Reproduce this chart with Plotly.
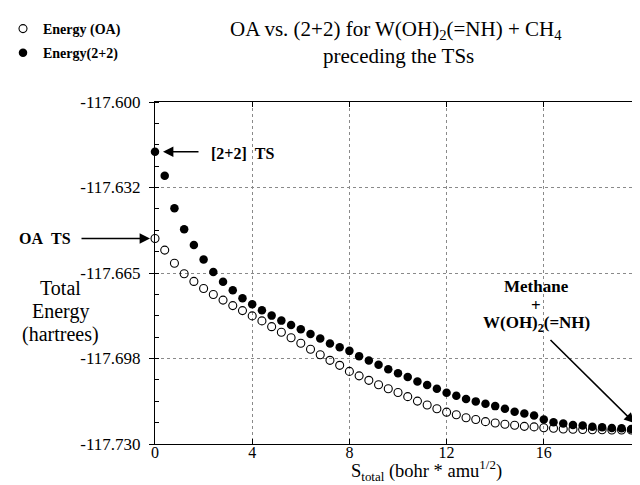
import plotly.graph_objects as go

# Reaction coordinate S_total (bohr * amu^1/2), step 0.4
s_values = [round(i * 0.4, 1) for i in range(51)]

# Total energy (hartrees) along the path preceding the OA TS
energy_oa = [
    -117.6519, -117.6563, -117.6613, -117.6653, -117.6682, -117.6709, -117.6732,
    -117.6753, -117.6774, -117.6793, -117.6813, -117.6832, -117.6854, -117.6875,
    -117.6896, -117.6917, -117.6940, -117.6961, -117.6982, -117.7001, -117.7024,
    -117.7041, -117.7058, -117.7075, -117.7090, -117.7104, -117.7120, -117.7137,
    -117.7152, -117.7166, -117.7179, -117.7189, -117.7200, -117.7207, -117.7215,
    -117.7220, -117.7225, -117.7229, -117.7233, -117.7235, -117.7238, -117.7240,
    -117.7243, -117.7244, -117.7245, -117.7246, -117.7246, -117.7247, -117.7247,
    -117.7247, -117.7247,
]

# Total energy (hartrees) along the path preceding the [2+2] TS
energy_22 = [
    -117.6189, -117.6280, -117.6404, -117.6484, -117.6544, -117.6599, -117.6646,
    -117.6683, -117.6716, -117.6746, -117.6769, -117.6792, -117.6812, -117.6831,
    -117.6848, -117.6864, -117.6882, -117.6899, -117.6918, -117.6932, -117.6946,
    -117.6966, -117.6983, -117.6999, -117.7016, -117.7031, -117.7045, -117.7062,
    -117.7076, -117.7090, -117.7105, -117.7117, -117.7129, -117.7138, -117.7147,
    -117.7156, -117.7166, -117.7177, -117.7184, -117.7192, -117.7207, -117.7217,
    -117.7222, -117.7228, -117.7230, -117.7234, -117.7236, -117.7239, -117.7240,
    -117.7243, -117.7245,
]

y_tickvals = [-117.730, -117.6975, -117.665, -117.6325, -117.600]
y_ticktext = ["-117.730", "-117.698", "-117.665", "-117.632", "-117.600"]
x_tickvals = [0, 4, 8, 12, 16, 20]

SERIF = "Liberation Serif, Times New Roman, serif"

# plot area in pixels (for placing texts outside the axes)
L, R, T, B = 147, 633, 94, 436
W, H = R - L, B - T


def px(xp):
    return (xp - L) / W


def py(yp):
    return (B - yp) / H


fig = go.Figure()
fig.add_trace(go.Scatter(
    x=s_values, y=energy_oa, mode="markers", name="<b>Energy (OA)</b>",
    legendgroup="a",
    marker=dict(symbol="circle-open", size=8, color="black", line=dict(width=1.1, color="black")),
    cliponaxis=False,
))
fig.add_trace(go.Scatter(
    x=s_values, y=energy_22, mode="markers", name="<b>Energy(2+2)</b>",
    legendgroup="b",
    marker=dict(symbol="circle", size=8.5, color="black"),
    cliponaxis=False,
))

axis_common = dict(
    showline=True, linecolor="black", linewidth=1.2, mirror="allticks",
    tickcolor="black", tickwidth=1,
    showgrid=True, gridcolor="#8a8a8a", griddash="dot", gridwidth=1,
    zeroline=False, ticklabeloverflow="allow",
)

fig.update_xaxes(
    range=[0, 20], tickvals=x_tickvals, ticks="inside", ticklen=5,
    ticklabelstandoff=-6,
    tickfont=dict(family=SERIF, size=16, color="black"),
    **axis_common,
)
fig.update_yaxes(
    range=[-117.730, -117.600], tickvals=y_tickvals, ticktext=y_ticktext,
    ticks="outside", ticklen=5, ticklabelstandoff=5,
    tickfont=dict(family=SERIF, size=17, color="black"),
    minor=dict(dtick=0.008125, tick0=-117.730, ticks="inside", ticklen=4,
               tickcolor="black", showgrid=False),
    **axis_common,
)

annotations = [
    # title
    dict(text="OA vs. (2+2) for W(OH)<sub>2</sub>(=NH) + CH<sub>4</sub>",
         xref="paper", yref="paper", x=px(388), y=py(22), showarrow=False,
         xanchor="center", yanchor="middle", font=dict(family=SERIF, size=21, color="black")),
    dict(text="preceding the TSs",
         xref="paper", yref="paper", x=px(390), y=py(48), showarrow=False,
         xanchor="center", yanchor="middle", font=dict(family=SERIF, size=21, color="black")),
    # y axis title
    dict(text="Total", xref="paper", yref="paper", x=px(52), y=py(280), showarrow=False,
         xanchor="center", yanchor="middle", font=dict(family=SERIF, size=20, color="black")),
    dict(text="Energy", xref="paper", yref="paper", x=px(52), y=py(303), showarrow=False,
         xanchor="center", yanchor="middle", font=dict(family=SERIF, size=20, color="black")),
    dict(text="(hartrees)", xref="paper", yref="paper", x=px(52), y=py(326), showarrow=False,
         xanchor="center", yanchor="middle", font=dict(family=SERIF, size=20, color="black")),
    # x axis title
    dict(text="S<sub>total</sub> (bohr * amu<sup>1/2</sup>)", xref="paper", yref="paper",
         x=px(418), y=py(462), showarrow=False, xanchor="center", yanchor="middle",
         font=dict(family=SERIF, size=18.5, color="black")),
    # arrows
    dict(x=0, y=energy_22[0], xref="x", yref="y", ax=45, ay=0, text="",
         showarrow=True, arrowhead=2, arrowsize=1.3, arrowwidth=1.6, arrowcolor="black", standoff=8),
    dict(x=0, y=energy_oa[0], xref="x", yref="y", ax=-75, ay=0, text="",
         showarrow=True, arrowhead=2, arrowsize=1.3, arrowwidth=1.6, arrowcolor="black", standoff=5),
    dict(x=20, y=energy_22[-1], xref="x", yref="y", ax=-92, ay=-91, text="",
         showarrow=True, arrowhead=2, arrowsize=1.3, arrowwidth=1.6, arrowcolor="black", standoff=9),
    # labels
    dict(text="<b>[2+2]\u00a0\u00a0TS</b>", xref="paper", yref="paper",
         x=px(201), y=py(145), xanchor="left", yanchor="middle",
         showarrow=False, font=dict(family=SERIF, size=16, color="black")),
    dict(text="<b>OA\u00a0\u00a0TS</b>", xref="paper", yref="paper",
         x=px(37), y=py(230), xanchor="center", yanchor="middle",
         showarrow=False, font=dict(family=SERIF, size=16, color="black")),
    dict(text="<b>Methane</b>", xref="paper", yref="paper",
         x=px(528), y=py(278), xanchor="center", yanchor="middle",
         showarrow=False, font=dict(family=SERIF, size=17, color="black")),
    dict(text="<b>+</b>", xref="paper", yref="paper",
         x=px(528), y=py(297), xanchor="center", yanchor="middle",
         showarrow=False, font=dict(family=SERIF, size=17, color="black")),
    dict(text="<b>W(OH)<sub>2</sub>(=NH)</b>", xref="paper", yref="paper",
         x=px(528), y=py(316), xanchor="center", yanchor="middle",
         showarrow=False, font=dict(family=SERIF, size=17, color="black")),
]

fig.update_layout(
    width=640, height=485,
    margin=dict(l=L, r=640 - R, t=T, b=485 - B, autoexpand=False),
    paper_bgcolor="white", plot_bgcolor="white",
    legend=dict(
        x=px(-5), y=py(5), xanchor="left", yanchor="top",
        font=dict(family=SERIF, size=14, color="black"),
        bgcolor="rgba(0,0,0,0)", tracegroupgap=3, itemwidth=30,
    ),
    showlegend=True,
    annotations=annotations,
)

fig.write_html("out.html")
